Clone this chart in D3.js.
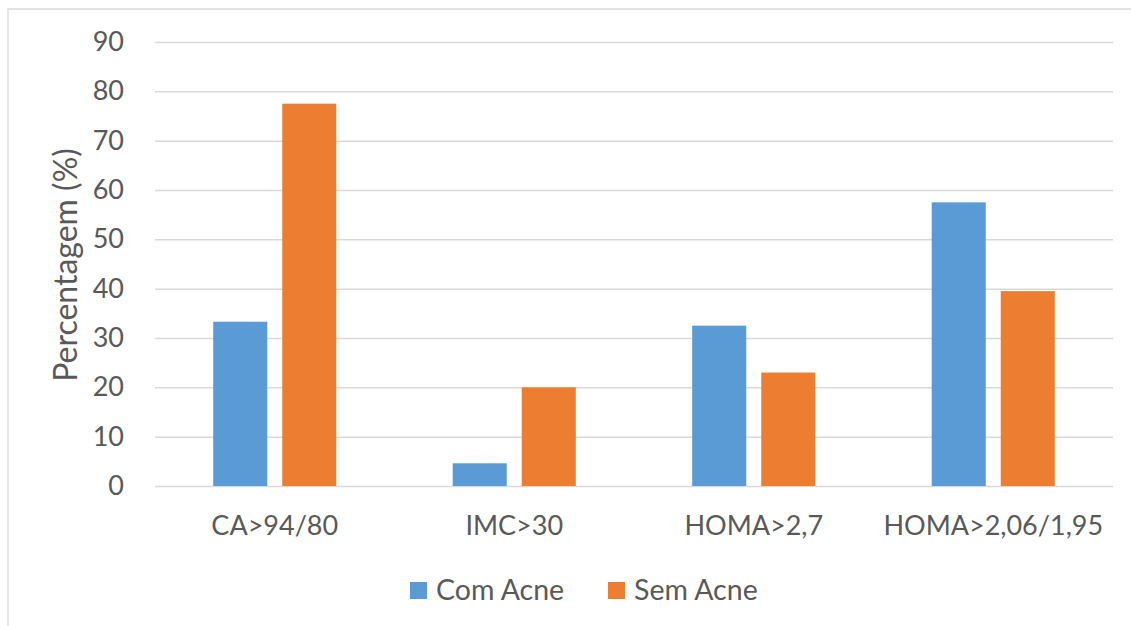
<!DOCTYPE html>
<html>
<head>
<meta charset="utf-8">
<script src="https://cdn.jsdelivr.net/npm/d3@7"></script>
<style>
  body { margin: 0; background: #fff; }
  text { font-family: Lato, "Open Sans", sans-serif; fill: #595959; }
</style>
</head>
<body>
<svg width="1131" height="626"></svg>
<script>
const categories = ['CA>94/80', 'IMC>30', 'HOMA>2,7', 'HOMA>2,06/1,95'];
const seriesNames = ['Com Acne', 'Sem Acne'];
const comAcne = [33.3, 4.6, 32.5, 57.5];
const semAcne = [77.5, 20, 23, 39.5];
const yTicks = [0, 10, 20, 30, 40, 50, 60, 70, 80, 90];
const colors = ['#5b9bd5', '#ed7d31'];

const svg = d3.select('svg');
const width = +svg.attr('width');
const height = +svg.attr('height');

// chart frame (only top and left edges are inside the picture)
svg.append('path')
    .attr('d', `M8,${height} L8,9 L${width},9`)
    .attr('fill', 'none')
    .attr('stroke', '#d9d9d9')
    .attr('stroke-width', 1.3);

const margin = {top: 42, right: 18, bottom: 140, left: 155};
const innerWidth = width - margin.left - margin.right;
const innerHeight = height - margin.top - margin.bottom;

const data = categories.map((c, i) => ({cat: c, values: [comAcne[i], semAcne[i]]}));

const x0 = d3.scaleBand().domain(categories).range([0, innerWidth]);
const outer = x0.bandwidth() * 0.243;
const x1 = d3.scaleBand().domain(d3.range(seriesNames.length))
    .range([outer, x0.bandwidth() - outer])
    .paddingInner(0.217);
const yScale = d3.scaleLinear().domain([0, 90]).range([innerHeight, 0]);

const g = svg.append('g').attr('transform', `translate(${margin.left},${margin.top})`);

// gridlines + y tick labels
const yAxis = d3.axisLeft(yScale).tickValues(yTicks).tickSize(-innerWidth).tickPadding(31);
const yAxisG = g.append('g').call(yAxis);
yAxisG.select('.domain').remove();
yAxisG.selectAll('.tick line').attr('stroke', '#d9d9d9').attr('stroke-width', 1.5);
yAxisG.selectAll('.tick text')
    .style('font-family', 'Lato, sans-serif')
    .attr('font-size', 27).attr('fill', '#595959');

// bars
const groups = g.selectAll('.cat').data(data).enter().append('g')
    .attr('transform', d => `translate(${x0(d.cat)},0)`);
groups.selectAll('rect').data(d => d.values).enter().append('rect')
    .attr('x', (d, i) => x1(i))
    .attr('width', x1.bandwidth())
    .attr('y', d => yScale(d))
    .attr('height', d => innerHeight - yScale(d))
    .attr('fill', (d, i) => colors[i]);

// category labels
const xAxis = d3.axisBottom(x0).tickSize(0).tickPadding(30);
const xAxisG = g.append('g').attr('transform', `translate(0,${innerHeight})`).call(xAxis);
xAxisG.select('.domain').remove();
xAxisG.selectAll('.tick text')
    .style('font-family', 'Lato, sans-serif')
    .attr('font-size', 27).attr('fill', '#595959');

// y axis title
svg.append('text')
    .attr('transform', `translate(77,${265}) rotate(-90)`)
    .attr('text-anchor', 'middle')
    .attr('font-size', 32)
    .text('Percentagem  (%)');

// legend
const legend = svg.append('g').attr('transform', 'translate(410,582)');
const legendX = [0, 198];
seriesNames.forEach((name, i) => {
    const lg = legend.append('g').attr('transform', `translate(${legendX[i]},0)`);
    lg.append('rect').attr('width', 17).attr('height', 17).attr('fill', colors[i]);
    lg.append('text').attr('x', 26).attr('y', 18).attr('font-size', 28.5).text(name);
});
</script>
</body>
</html>
